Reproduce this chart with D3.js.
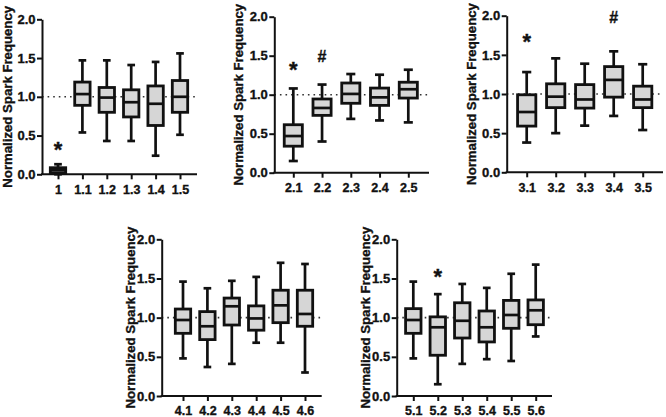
<!DOCTYPE html>
<html>
<head>
<meta charset="utf-8">
<script src="https://cdn.jsdelivr.net/npm/d3@7"></script>
<style>
  html, body { margin: 0; padding: 0; background: #fff; }
  svg { display: block; }
  text { font-family: "Liberation Sans", Arial, sans-serif; font-weight: bold; fill: #111; stroke: #111; stroke-width: 0.35px; }
</style>
</head>
<body>
<svg id="chart" width="666" height="417"></svg>
<script>
// ---- data: [min, q1, median, q3, max] per category ----
const yTicks = [0, 0.5, 1.0, 1.5, 2.0];
const yTitle = "Normalized Spark Frequency";
const refLine = 1.0;

const p1Cats = ["1", "1.1", "1.2", "1.3", "1.4", "1.5"];
const p1Stats = [
  [0.0, 0.02, 0.055, 0.085, 0.13],
  [0.54, 0.89, 1.035, 1.19, 1.47],
  [0.43, 0.80, 0.99, 1.12, 1.47],
  [0.43, 0.74, 0.93, 1.09, 1.41],
  [0.24, 0.63, 0.91, 1.14, 1.45],
  [0.51, 0.80, 1.00, 1.21, 1.56]
];
const p1Marks = [["1", "*", 0.38]];

const p2Cats = ["2.1", "2.2", "2.3", "2.4", "2.5"];
const p2Stats = [
  [0.15, 0.34, 0.47, 0.615, 1.08],
  [0.40, 0.735, 0.83, 0.945, 1.13],
  [0.69, 0.89, 1.01, 1.15, 1.265],
  [0.67, 0.863, 0.966, 1.085, 1.256],
  [0.645, 0.957, 1.07, 1.16, 1.32]
];
const p2Marks = [["2.1", "*", 1.39], ["2.2", "#", 1.49]];

const p3Cats = ["3.1", "3.2", "3.3", "3.4", "3.5"];
const p3Stats = [
  [0.38, 0.59, 0.77, 0.99, 1.28],
  [0.50, 0.826, 0.966, 1.13, 1.455],
  [0.596, 0.82, 0.93, 1.12, 1.387],
  [0.72, 0.96, 1.18, 1.35, 1.545],
  [0.54, 0.826, 0.93, 1.10, 1.38]
];
const p3Marks = [["3.1", "*", 1.73], ["3.4", "#", 1.98]];

const p4Cats = ["4.1", "4.2", "4.3", "4.4", "4.5", "4.6"];
const p4Stats = [
  [0.48, 0.80, 0.97, 1.11, 1.46],
  [0.37, 0.72, 0.89, 1.077, 1.375],
  [0.41, 0.906, 1.145, 1.25, 1.47],
  [0.68, 0.84, 0.99, 1.15, 1.52],
  [0.68, 0.936, 1.157, 1.35, 1.70],
  [0.30, 0.89, 1.047, 1.35, 1.685]
];
const p4Marks = [];

const p5Cats = ["5.1", "5.2", "5.3", "5.4", "5.5", "5.6"];
const p5Stats = [
  [0.48, 0.80, 0.97, 1.115, 1.46],
  [0.15, 0.52, 0.877, 1.01, 1.30],
  [0.41, 0.74, 0.96, 1.19, 1.43],
  [0.47, 0.69, 0.877, 1.085, 1.38],
  [0.447, 0.864, 1.034, 1.22, 1.56],
  [0.76, 0.91, 1.094, 1.226, 1.677]
];
const p5Marks = [["5.2", "*", 1.59]];

// ---- layout (positions only) ----
const layouts = [
  { axisX: 42,    endX: 197,   catRange: [58, 180],     yRange: [174.3, 19.3], titleX: 7.5 },
  { axisX: 274.3, endX: 429,   catRange: [293.3, 408.3], yRange: [172.7, 16.7], titleX: 238.5 },
  { axisX: 506.7, endX: 663,   catRange: [526.7, 642.7], yRange: [172.3, 15.7], titleX: 471.5 },
  { axisX: 161.7, endX: 321.7, catRange: [183, 305],     yRange: [396, 239.3],  titleX: 130.5 },
  { axisX: 396.7, endX: 552,   catRange: [413.3, 535.7], yRange: [396, 239.3],  titleX: 365 }
];
const panels = [
  [p1Cats, p1Stats, p1Marks],
  [p2Cats, p2Stats, p2Marks],
  [p3Cats, p3Stats, p3Marks],
  [p4Cats, p4Stats, p4Marks],
  [p5Cats, p5Stats, p5Marks]
];

const svg = d3.select("#chart");
const ink = "#111";
const boxFill = "#d6d6d6";
const fontFam = "Liberation Sans, Arial, sans-serif";

panels.forEach(([cats, stats, marks], i) => {
  const L = layouts[i];
  const g = svg.append("g");
  const x = d3.scalePoint().domain(cats).range(L.catRange);
  const y = d3.scaleLinear().domain([0, 2]).range(L.yRange);
  const step = x.step();
  const bw = step * 0.63;
  const cw = bw * 0.5;

  // reference dotted line
  g.append("line")
    .attr("x1", L.axisX).attr("x2", L.endX)
    .attr("y1", y(refLine)).attr("y2", y(refLine))
    .attr("stroke", "#333").attr("stroke-width", 1.6)
    .attr("stroke-dasharray", "1.6,4");

  // y axis
  const ya = g.append("g")
    .attr("transform", `translate(${L.axisX},0)`)
    .call(d3.axisLeft(y).tickValues(yTicks).tickFormat(d3.format(".1f")).tickSize(5).tickSizeOuter(0).tickPadding(1.5));
  ya.select(".domain").attr("stroke", ink).attr("stroke-width", 2);
  ya.selectAll(".tick line").attr("stroke", ink).attr("stroke-width", 2);
  ya.selectAll(".tick text").attr("font-size", 13).attr("font-family", fontFam).attr("font-weight", "bold").attr("fill", ink);

  // x axis
  const xa = g.append("g")
    .attr("transform", `translate(0,${L.yRange[0]})`)
    .call(d3.axisBottom(x).tickSize(5).tickSizeOuter(0).tickPadding(5.5));
  xa.select(".domain").remove();
  xa.selectAll(".tick line").attr("stroke", ink).attr("stroke-width", 2);
  xa.selectAll(".tick text").attr("font-size", 12.5).attr("font-family", fontFam).attr("font-weight", "bold").attr("fill", ink);
  g.append("line")
    .attr("x1", L.axisX - 1).attr("x2", L.endX)
    .attr("y1", y(0)).attr("y2", y(0))
    .attr("stroke", ink).attr("stroke-width", 2);

  // y title
  g.append("text")
    .attr("transform", `translate(${L.titleX},${(L.yRange[0] + L.yRange[1]) / 2}) rotate(-90)`)
    .attr("text-anchor", "middle")
    .attr("dy", "0.36em")
    .attr("font-size", 13.2)
    .text(yTitle);

  // boxes
  const data = cats.map((c, k) => ({ c, s: stats[k] }));
  const b = g.selectAll("g.box").data(data).enter().append("g").attr("class", "box");
  b.append("line")
    .attr("x1", d => x(d.c)).attr("x2", d => x(d.c))
    .attr("y1", d => y(d.s[0])).attr("y2", d => y(d.s[4]))
    .attr("stroke", ink).attr("stroke-width", 2.7);
  b.append("line")
    .attr("x1", d => x(d.c) - cw / 2).attr("x2", d => x(d.c) + cw / 2)
    .attr("y1", d => y(d.s[4])).attr("y2", d => y(d.s[4]))
    .attr("stroke", ink).attr("stroke-width", 2.7);
  b.append("line")
    .attr("x1", d => x(d.c) - cw / 2).attr("x2", d => x(d.c) + cw / 2)
    .attr("y1", d => y(d.s[0])).attr("y2", d => y(d.s[0]))
    .attr("stroke", ink).attr("stroke-width", 2.7);
  b.append("rect")
    .attr("x", d => x(d.c) - bw / 2).attr("width", bw)
    .attr("y", d => y(d.s[3])).attr("height", d => y(d.s[1]) - y(d.s[3]))
    .attr("fill", boxFill).attr("stroke", ink).attr("stroke-width", 2.8);
  b.append("line")
    .attr("x1", d => x(d.c) - bw / 2).attr("x2", d => x(d.c) + bw / 2)
    .attr("y1", d => y(d.s[2])).attr("y2", d => y(d.s[2]))
    .attr("stroke", ink).attr("stroke-width", 2.7);

  // significance marks
  g.selectAll("text.mark").data(marks).enter().append("text")
    .attr("class", "mark")
    .attr("x", d => x(d[0]))
    .attr("y", d => y(d[2]) + (d[1] === "*" ? 12.5 : 5.8))
    .attr("text-anchor", "middle")
    .attr("font-size", d => d[1] === "*" ? 22 : 16)
    .text(d => d[1]);
});
</script>
</body>
</html>
